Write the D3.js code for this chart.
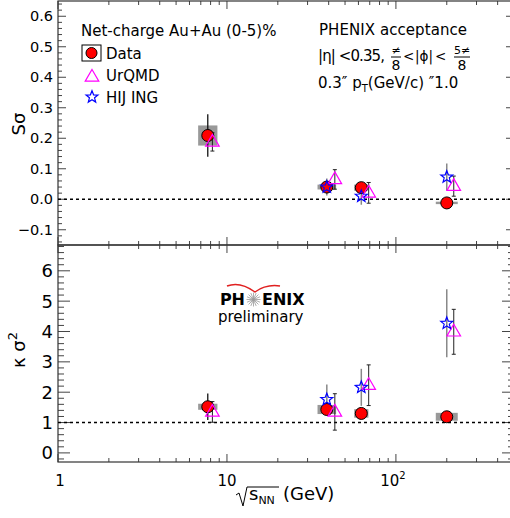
<!DOCTYPE html>
<html>
<head>
<meta charset="utf-8">
<script src="https://cdn.jsdelivr.net/npm/d3@7"></script>
<style>
  body { margin: 0; background: #fff; }
  text { font-family: "DejaVu Sans", sans-serif; fill: #000; }
</style>
</head>
<body>
<svg id="chart" width="510" height="518"></svg>
<script>
// energies (GeV)
const energies = [7.7, 39, 62.4, 200]
const urqmdEnergies = [8.2, 43.5, 69, 220]
const hijingEnergies = [39, 62.4, 200]

// S sigma
const sSigmaData = [0.209, 0.040, 0.038, -0.012]
const sSigmaStat = [0.07, 0.02, 0.008, 0.006]
const sSigmaSys = [0.033, 0.008, 0.01, 0.004]
const sSigmaUrqmd = [0.188, 0.065, 0.021, 0.043]
const sSigmaUrqmdErr = [0.03, 0.032, 0.034, 0.033]
const sSigmaHijing = [0.040, 0.010, 0.073]
const sSigmaHijingErr = [0.028, 0.028, 0.044]

// kappa sigma^2
const kSigmaData = [1.52, 1.43, 1.30, 1.19]
const kSigmaStat = [0.44, 0.15, 0.08, 0.06]
const kSigmaSys = [0.1, 0.15, 0.14, 0.13]
const kSigmaUrqmd = [1.35, 1.35, 2.23, 3.99]
const kSigmaUrqmdErr = [0.34, 0.6, 0.67, 0.74]
const kSigmaHijing = [1.76, 2.16, 4.27]
const kSigmaHijingErr = [0.49, 0.61, 1.12]

// sys box half widths, in decades
const boxDex = [0.057, 0.055, 0.042, 0.065]

const xTicks = [1, 10, 100]
const sTicks = [-0.1, 0, 0.1, 0.2, 0.3, 0.4, 0.5, 0.6]
const kTicks = [0, 1, 2, 3, 4, 5, 6]

let svg = d3.select("#chart")

let left = 58, right = 514
let x = d3.scaleLog().domain([1, 500]).range([left, right])

let yS = d3.scaleLinear().domain([-0.15, 0.65]).range([245, 1])
let yK = d3.scaleLinear().domain([-0.3, 6.85]).range([462, 245])

const grey = "#999"

function frame(y, minorStep, majorTicks, fmt, fontSize, majLen, minLen) {
    let [y0, y1] = y.domain()
    let g = svg.append("g")
    let top = y.range()[1], bottom = y.range()[0]

    // y minor ticks, left and right
    let minors = d3.range(Math.ceil(y0 / minorStep) * minorStep, y1, minorStep)
    minors.forEach(v => {
        let isMajor = majorTicks.some(m => Math.abs(m - v) < minorStep / 4)
        let len = isMajor ? majLen : minLen
        g.append("line").attr("x1", left).attr("x2", left + len)
            .attr("y1", y(v)).attr("y2", y(v)).attr("stroke", "#444")
        g.append("line").attr("x1", right).attr("x2", right - len)
            .attr("y1", y(v)).attr("y2", y(v)).attr("stroke", "#444")
    })
    majorTicks.forEach(v => {
        g.append("text").attr("x", left - 5).attr("y", y(v))
            .attr("dy", "0.36em").attr("text-anchor", "end")
            .style("font-size", fontSize + "px").text(fmt(v))
    })

    // x log ticks on bottom and top edges
    for (let dec = 1; dec < 500; dec *= 10) {
        for (let k = 1; k < 10; k++) {
            let v = dec * k
            if (v > 500) break
            let len = k === 1 ? 8 : 4
            g.append("line").attr("x1", x(v)).attr("x2", x(v))
                .attr("y1", bottom).attr("y2", bottom - len).attr("stroke", "#444")
            g.append("line").attr("x1", x(v)).attr("x2", x(v))
                .attr("y1", top).attr("y2", top + len).attr("stroke", "#444")
        }
    }

    g.append("rect").attr("x", left).attr("y", top)
        .attr("width", right - left).attr("height", bottom - top)
        .attr("fill", "none").attr("stroke", "#333").attr("stroke-width", 1.2)
    return g
}

function dashed(y, v) {
    svg.append("line").attr("x1", left).attr("x2", right)
        .attr("y1", y(v)).attr("y2", y(v))
        .attr("stroke", "#000").attr("stroke-width", 1.5)
        .attr("stroke-dasharray", "3,3")
}

const starPath = (function() {
    let pts = []
    for (let i = 0; i < 10; i++) {
        let r = i % 2 === 0 ? 6.3 : 2.7
        let a = -Math.PI / 2 + i * Math.PI / 5
        pts.push([r * Math.cos(a), r * Math.sin(a)])
    }
    return "M" + pts.map(p => p.join(",")).join("L") + "Z"
})()
const triPath = "M0,-7.5L6.8,4.2L-6.8,4.2Z"

function drawPanel(y, vals, stat, sys, uVals, uErr, hVals, hErr) {
    let g = svg.append("g")
    // sys boxes
    energies.forEach((e, i) => {
        let xl = x(e / Math.pow(10, boxDex[i])), xr = x(e * Math.pow(10, boxDex[i]))
        g.append("rect").attr("x", xl).attr("width", xr - xl)
            .attr("y", y(vals[i] + sys[i])).attr("height", Math.max(2, y(vals[i] - sys[i]) - y(vals[i] + sys[i])))
            .attr("fill", grey)
    })
    // hijing bars
    hijingEnergies.forEach((e, i) => {
        g.append("line").attr("x1", x(e)).attr("x2", x(e))
            .attr("y1", y(hVals[i] + hErr[i])).attr("y2", y(hVals[i] - hErr[i]))
            .attr("stroke", "#888").attr("stroke-width", 1.5)
    })
    // urqmd bars with caps
    urqmdEnergies.forEach((e, i) => {
        let xc = x(e)
        g.append("line").attr("x1", xc).attr("x2", xc)
            .attr("y1", y(uVals[i] + uErr[i])).attr("y2", y(uVals[i] - uErr[i]))
            .attr("stroke", "#222").attr("stroke-width", 1)
        ;[uVals[i] + uErr[i], uVals[i] - uErr[i]].forEach(v => {
            g.append("line").attr("x1", xc - 2).attr("x2", xc + 2)
                .attr("y1", y(v)).attr("y2", y(v)).attr("stroke", "#222")
        })
    })
    // data stat bars
    energies.forEach((e, i) => {
        g.append("line").attr("x1", x(e)).attr("x2", x(e))
            .attr("y1", y(vals[i] + stat[i])).attr("y2", y(vals[i] - stat[i]))
            .attr("stroke", "#111").attr("stroke-width", 1.3)
    })
    // markers
    energies.forEach((e, i) => {
        g.append("circle").attr("cx", x(e)).attr("cy", y(vals[i])).attr("r", 6)
            .attr("fill", "#f00").attr("stroke", "#000").attr("stroke-width", 1)
    })
    urqmdEnergies.forEach((e, i) => {
        g.append("path").attr("d", triPath)
            .attr("transform", `translate(${x(e)},${y(uVals[i])})`)
            .attr("fill", "none").attr("stroke", "#f0f").attr("stroke-width", 1.2)
    })
    hijingEnergies.forEach((e, i) => {
        g.append("path").attr("d", starPath)
            .attr("transform", `translate(${x(e)},${y(hVals[i])})`)
            .attr("fill", "none").attr("stroke", "#00f").attr("stroke-width", 1.2)
    })
}

frame(yS, 0.02, sTicks, d3.format(".1f"), 14.5, 8, 4)
frame(yK, 0.2, kTicks, d3.format("d"), 18, 12, 6)
dashed(yS, 0)
dashed(yK, 1)
drawPanel(yS, sSigmaData, sSigmaStat, sSigmaSys, sSigmaUrqmd, sSigmaUrqmdErr, sSigmaHijing, sSigmaHijingErr)
drawPanel(yK, kSigmaData, kSigmaStat, kSigmaSys, kSigmaUrqmd, kSigmaUrqmdErr, kSigmaHijing, kSigmaHijingErr)

// x tick labels
svg.append("text").attr("x", x(1) + 2).attr("y", 486).attr("text-anchor", "middle")
    .style("font-size", "15px").text("1")
svg.append("text").attr("x", x(10)).attr("y", 486).attr("text-anchor", "middle")
    .style("font-size", "15px").text("10")
let t100 = svg.append("text").attr("x", x(100) - 3).attr("y", 486).attr("text-anchor", "middle")
    .style("font-size", "15px")
t100.append("tspan").text("10")
t100.append("tspan").attr("dy", -7).style("font-size", "10px").text("2")

// axis titles
let xt = svg.append("text").attr("x", 249).attr("y", 500).style("font-size", "18px")
xt.append("tspan").text("s")
xt.append("tspan").attr("dy", 4).style("font-size", "11px").text("NN")
xt.append("tspan").attr("x", 283).attr("dy", -4).text("(GeV)")
svg.append("path").attr("d", "M236,495 L239,493 L243,506 L247,487 L279,487")
    .attr("fill", "none").attr("stroke", "#000").attr("stroke-width", 1)

svg.append("text").attr("transform", "translate(25,124) rotate(-90)")
    .attr("text-anchor", "middle").style("font-size", "18px").text("Sσ")
let kt = svg.append("text").attr("transform", "translate(25,350) rotate(-90)")
    .attr("text-anchor", "middle").style("font-size", "18px")
kt.append("tspan").text("κ σ")
kt.append("tspan").attr("dy", -8).style("font-size", "13px").text("2")

// legend
svg.append("text").attr("x", 81).attr("y", 36).style("font-size", "15px")
    .text("Net-charge Au+Au (0-5)%")
svg.append("rect").attr("x", 82).attr("y", 45).attr("width", 19).attr("height", 16)
    .attr("fill", "none").attr("stroke", "#000").attr("stroke-width", 1)
svg.append("circle").attr("cx", 91.5).attr("cy", 53).attr("r", 5.5)
    .attr("fill", "#f00").attr("stroke", "#000")
svg.append("path").attr("d", triPath).attr("transform", "translate(92,77)")
    .attr("fill", "none").attr("stroke", "#f0f").attr("stroke-width", 1.2)
svg.append("path").attr("d", starPath).attr("transform", "translate(92,97)")
    .attr("fill", "none").attr("stroke", "#00f").attr("stroke-width", 1.2)
svg.append("text").attr("x", 106).attr("y", 59).style("font-size", "15px").text("Data")
svg.append("text").attr("x", 106).attr("y", 81).style("font-size", "15px").text("UrQMD")
svg.append("text").attr("x", 106).attr("y", 103).style("font-size", "15px").text("HIJ ING")

// acceptance text
svg.append("text").attr("x", 319).attr("y", 35).style("font-size", "15px")
    .attr("textLength", 148).text("PHENIX acceptance")
svg.append("text").attr("x", 318).attr("y", 61).style("font-size", "15px")
    .attr("textLength", 67).text("|η| <0.35,")
function frac(xc, num, den, w) {
    svg.append("text").attr("x", xc).attr("y", 54).attr("text-anchor", "middle")
        .style("font-size", "11px").text(num)
    svg.append("line").attr("x1", xc - w).attr("x2", xc + w).attr("y1", 57).attr("y2", 57)
        .attr("stroke", "#000")
    svg.append("text").attr("x", xc).attr("y", 70).attr("text-anchor", "middle")
        .style("font-size", "14px").text(den)
}
frac(396, "≠", "8", 5)
svg.append("text").attr("x", 403).attr("y", 61).style("font-size", "13.5px").text("<")
svg.append("text").attr("x", 415).attr("y", 61).style("font-size", "13.5px").text("|ϕ|")
svg.append("text").attr("x", 435).attr("y", 61).style("font-size", "13.5px").text("<")
frac(462, "5≠", "8", 8)
let pt = svg.append("text").attr("x", 318).attr("y", 88).style("font-size", "15px")
pt.append("tspan").text("0.3″  p")
pt.append("tspan").attr("dy", 4).style("font-size", "10px").text("T")
pt.append("tspan").attr("dy", -4).text("(GeV/c) ″1.0")

// PHENIX preliminary logo
svg.append("path").attr("d", "M227,286 Q240,281 255,292 Q266,284 280,286")
    .attr("fill", "none").attr("stroke", "#e02020").attr("stroke-width", 1.5)
svg.append("text").attr("x", 245).attr("y", 305).attr("text-anchor", "end")
    .style("font-size", "16px").style("font-weight", "bold").text("PH")
svg.append("text").attr("x", 262).attr("y", 305)
    .style("font-size", "16px").style("font-weight", "bold").text("ENIX")
d3.range(16).forEach(i => {
    let a = i * Math.PI / 8
    svg.append("line").attr("x1", 253.5).attr("y1", 299.5)
        .attr("x2", 253.5 + 7 * Math.cos(a)).attr("y2", 299.5 + 7 * Math.sin(a))
        .attr("stroke", "#999").attr("stroke-width", 0.8)
})
svg.append("text").attr("x", 218).attr("y", 322).style("font-size", "15px").text("preliminary")
</script>
</body>
</html>
